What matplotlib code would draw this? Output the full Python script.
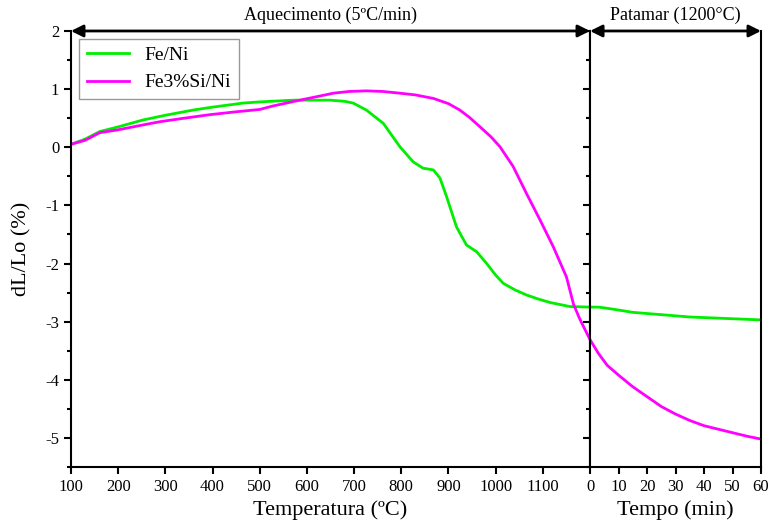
import matplotlib.pyplot as plt
from matplotlib.ticker import MultipleLocator

plt.rcParams['font.family'] = ['Liberation Serif', 'DejaVu Serif']
plt.rcParams['axes.unicode_minus'] = False

# heating stage (temperature, °C)
temp = [100, 130, 161, 200, 253, 300, 359, 400, 465, 500, 571, 620, 649, 680,
        698, 726, 762, 797, 825, 846, 868, 882, 896, 917, 938, 960, 981, 1000,
        1016, 1040, 1065, 1090, 1115, 1157, 1200]
feni_heat = [0.05, 0.14, 0.27, 0.35, 0.47, 0.55, 0.64, 0.69, 0.76, 0.78, 0.81,
             0.81, 0.81, 0.79, 0.76, 0.64, 0.41, 0.01, -0.25, -0.36, -0.39,
             -0.53, -0.85, -1.37, -1.68, -1.80, -2.0, -2.2, -2.34, -2.45,
             -2.54, -2.61, -2.67, -2.74, -2.75]

temp_si = [100, 130, 161, 200, 250, 289, 340, 394, 450, 500, 528, 585, 627,
           656, 690, 726, 760, 797, 830, 868, 900, 924, 945, 967, 990, 1009,
           1037, 1065, 1094, 1122, 1150, 1165, 1178, 1200]
fesi_heat = [0.05, 0.12, 0.25, 0.30, 0.38, 0.44, 0.50, 0.56, 0.61, 0.65, 0.71,
             0.81, 0.88, 0.93, 0.96, 0.97, 0.96, 0.93, 0.90, 0.84, 0.75, 0.64,
             0.51, 0.35, 0.18, 0.01, -0.33, -0.79, -1.25, -1.71, -2.23,
             -2.70, -2.95, -3.31]

# isothermal hold at 1200 °C (time, min)
tempo = [0, 3, 6, 10, 15, 20, 25, 30, 35, 40, 45, 50, 55, 60]
feni_hold = [-2.75, -2.75, -2.77, -2.80, -2.84, -2.86, -2.88, -2.90, -2.92,
             -2.93, -2.94, -2.95, -2.96, -2.97]
fesi_hold = [-3.31, -3.55, -3.75, -3.92, -4.12, -4.29, -4.46, -4.59, -4.70,
             -4.79, -4.85, -4.91, -4.97, -5.02]

green = '#00ee00'
magenta = '#ff00ff'

fig = plt.figure(figsize=(7.73, 5.26), dpi=100)
ax1 = fig.add_axes([0.0918, 0.1122, 0.6715, 0.8289])
ax2 = fig.add_axes([0.7633, 0.1122, 0.2212, 0.8289])

ax1.plot(temp, feni_heat, color=green, lw=2, label='Fe/Ni')
ax1.plot(temp_si, fesi_heat, color=magenta, lw=2, label='Fe3%Si/Ni')
ax2.plot(tempo, feni_hold, color=green, lw=2)
ax2.plot(tempo, fesi_hold, color=magenta, lw=2)

ax1.set_xlim(100, 1200)
ax2.set_xlim(0, 60)
for ax in (ax1, ax2):
    ax.set_ylim(-5.5, 2)
    ax.spines['top'].set_visible(False)
    for s in ('left', 'right', 'bottom'):
        ax.spines[s].set_linewidth(1.5)
    ax.tick_params(direction='out', width=1.5, length=5, labelsize=12)
    ax.tick_params(which='minor', direction='out', width=1.5, length=3)
    ax.yaxis.set_major_locator(MultipleLocator(1))
    ax.yaxis.set_minor_locator(MultipleLocator(0.5))

ax1.set_xticks(range(100, 1200, 100))
ax2.set_xticks(range(0, 61, 10))
ax2.tick_params(axis='y', labelleft=False)

ax1.set_xlabel('Temperatura (ºC)', fontsize=16, labelpad=4)
ax2.set_xlabel('Tempo (min)', fontsize=16, labelpad=4)
ax1.set_ylabel('dL/Lo (%)', fontsize=16, labelpad=10)

leg = ax1.legend(loc='upper left', fontsize=14, frameon=True, fancybox=False,
                 edgecolor='gray', handlelength=2.2, borderaxespad=0.4)
leg.get_frame().set_linewidth(1)

# stage arrows along the top edge
for ax, text in ((ax1, 'Aquecimento (5ºC/min)'), (ax2, 'Patamar (1200°C)')):
    ax.annotate('', xy=(0, 1), xytext=(1, 1), xycoords='axes fraction',
                arrowprops=dict(arrowstyle='<|-|>', color='black', lw=2,
                                shrinkA=0, shrinkB=0, mutation_scale=18),
                annotation_clip=False)
    ax.text(0.5, 1.015, text, transform=ax.transAxes, ha='center', va='bottom',
            fontsize=13)

fig.savefig('out.png', dpi=100)
